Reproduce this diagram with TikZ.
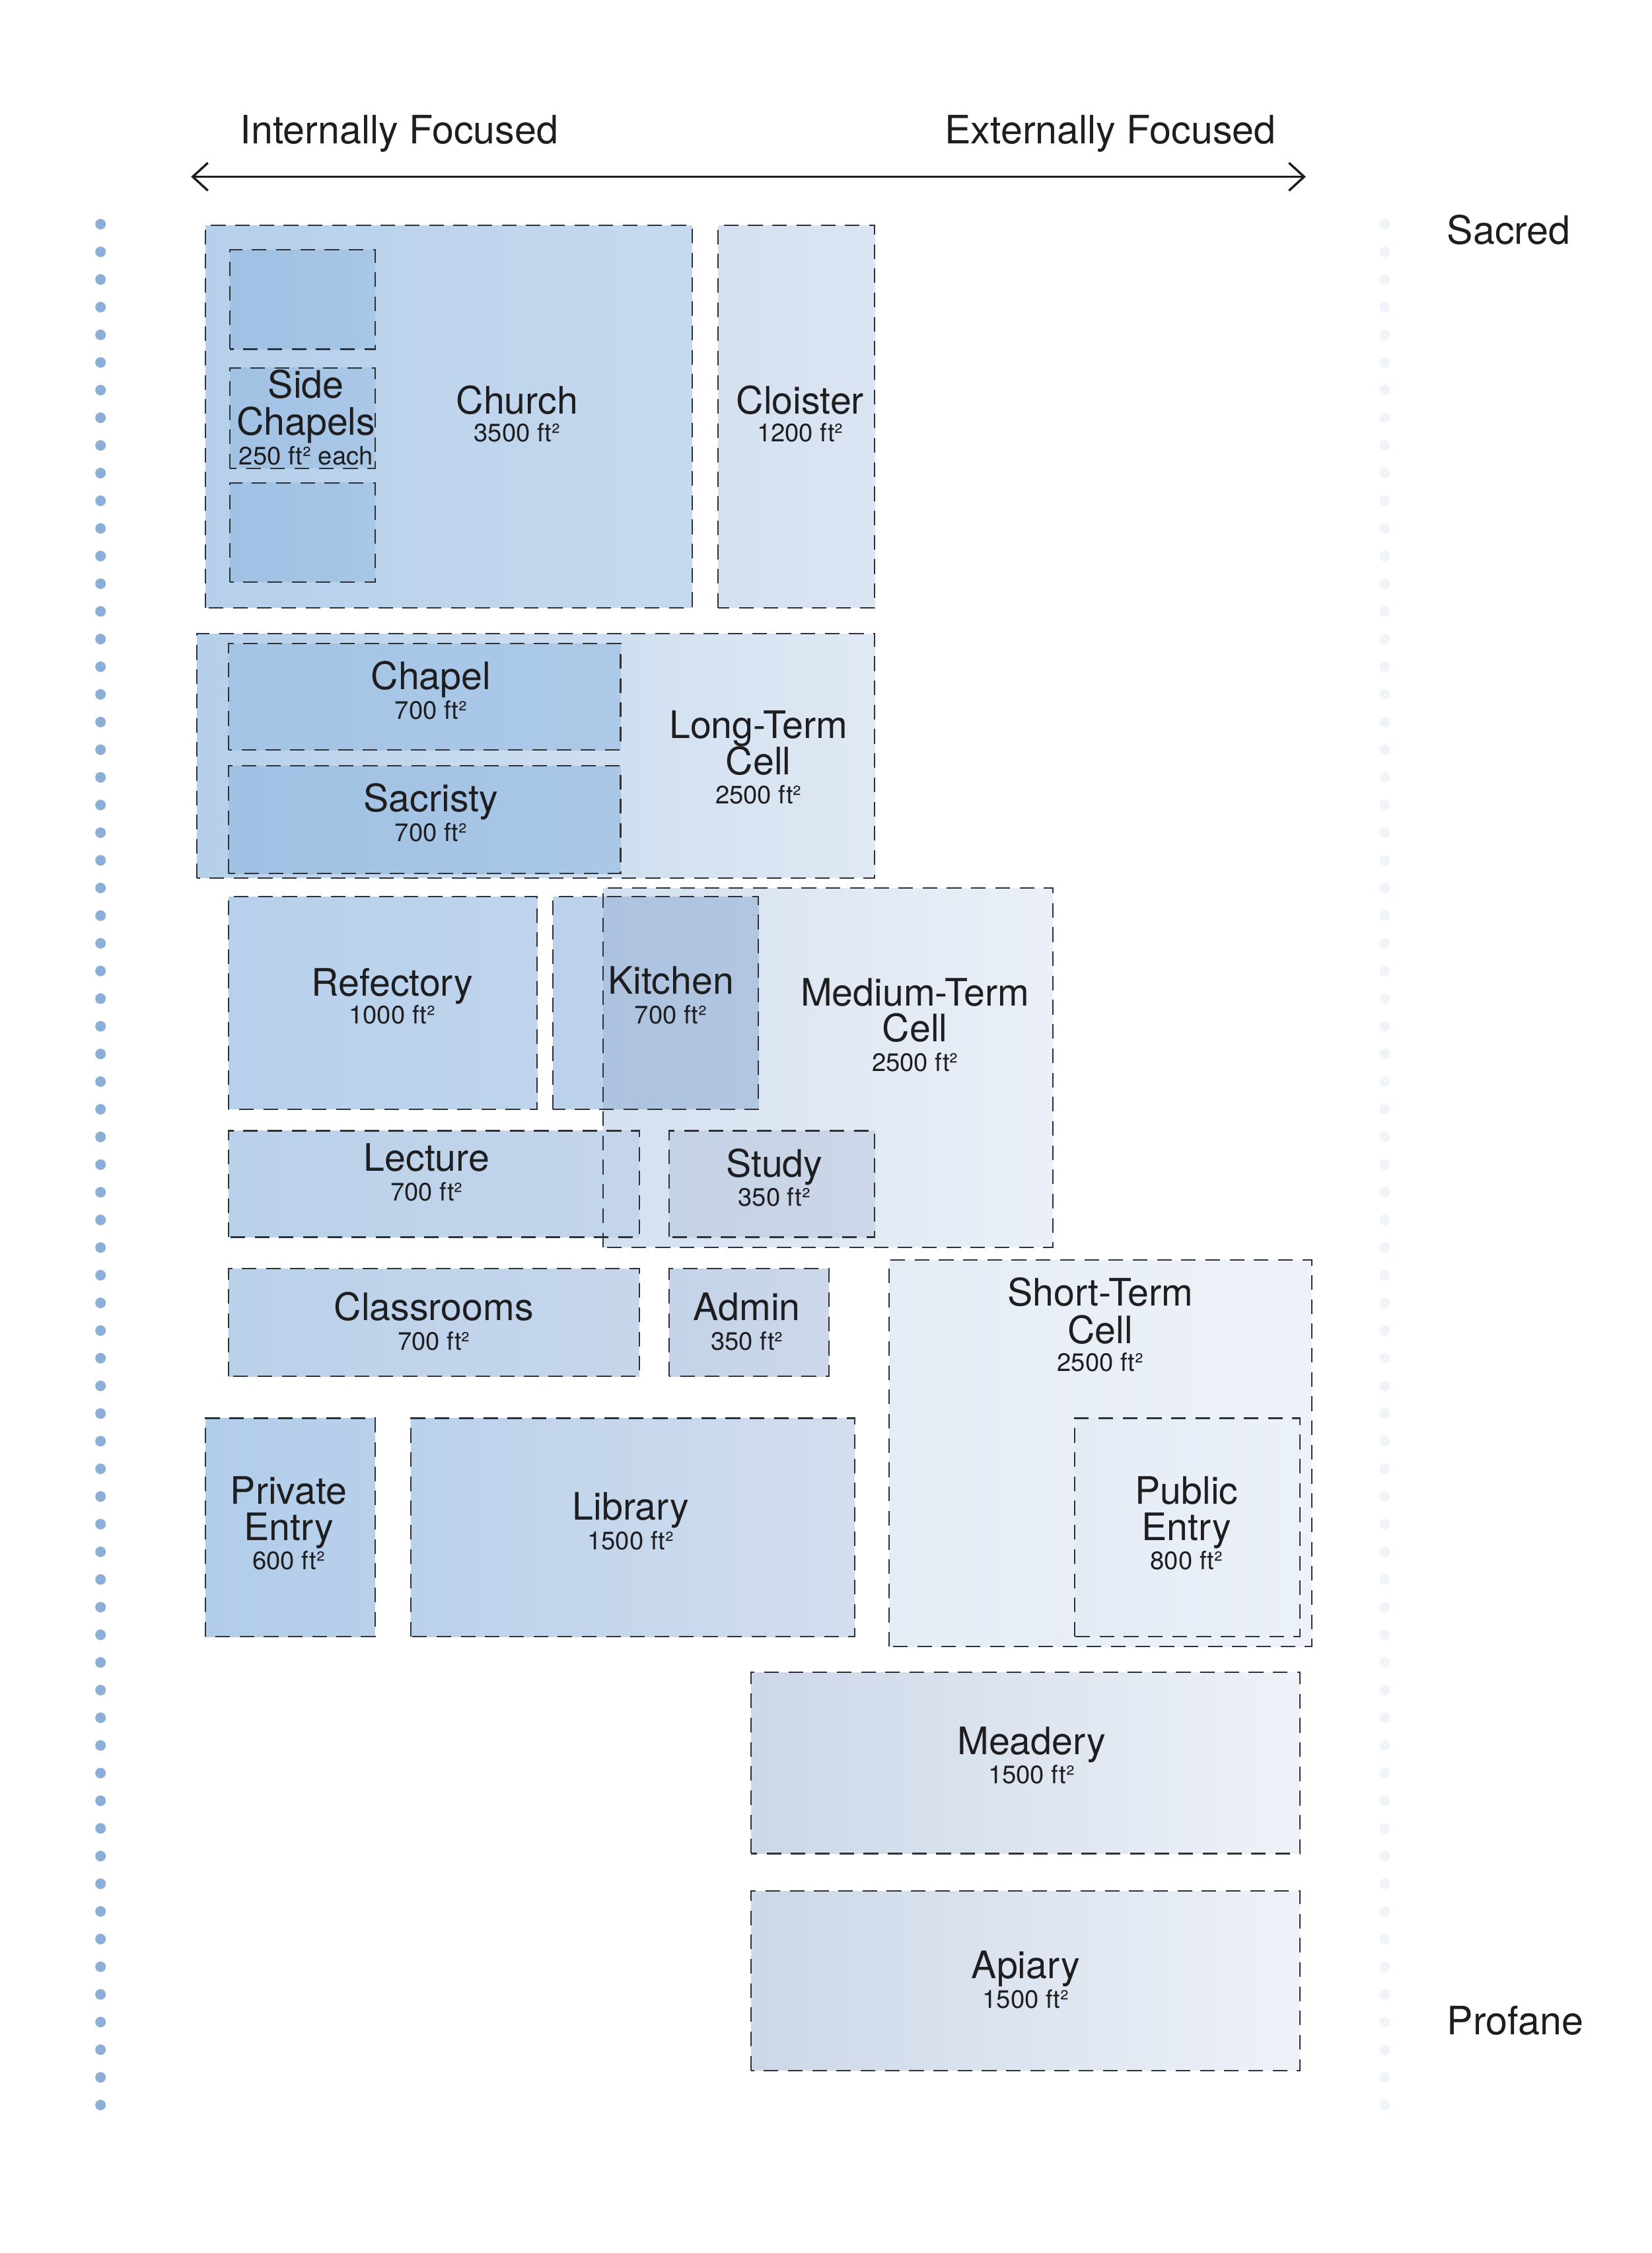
\documentclass[tikz,border=0pt]{standalone}
\usepackage{fontspec}
\setmainfont{TeX Gyre Heros}
\usetikzlibrary{fit,arrows.meta}
\definecolor{txt}{RGB}{30,30,32}
\definecolor{bord}{RGB}{45,50,56}
\definecolor{dotL}{RGB}{140,175,215}
\definecolor{dotR}{RGB}{240,243,248}
\newcommand\tfont{\fontsize{15}{15}\selectfont}
\newcommand\afont{\fontsize{10}{10}\selectfont}
\newcommand\hfont{\fontsize{15.5}{15.5}\selectfont}
\newcommand\room[7]{%
  \definecolor{#1L}{RGB}{#6}\definecolor{#1R}{RGB}{#7}%
  \node[roomfill, left color=#1L, right color=#1R, fit={(#2,#3) (#4,#5)}] (#1) {};}
\newcommand\border[1]{\draw[bordline] (#1.south west) rectangle (#1.north east);}
\begin{document}
\begin{tikzpicture}[x=0.02cm, y=-0.02cm,
  roomfill/.style={rectangle, inner sep=0pt, outer sep=0pt, draw=none},
  bordline/.style={draw=bord, line width=0.55pt, dash pattern=on 5.8pt off 3.8pt},
  ttl/.style={anchor=base, font=\tfont, text=txt, inner sep=0pt},
  ar/.style={anchor=base, font=\afont, text=txt, inner sep=0pt},
  hdr/.style={anchor=base, font=\hfont, text=txt, inner sep=0pt},
  axisarrow/.style={line width=0.9pt, draw=txt, {Straight Barb[length=6pt,width=11pt,line width=0.9pt]}-{Straight Barb[length=6pt,width=11pt,line width=0.9pt]}}
]
\fill[white] (0,0) rectangle (1150,1568);
\useasboundingbox (0,0) rectangle (1150,1568);

% side dotted scales
\foreach \i in {0,...,68} {
  \fill[dotL] (70,{156+\i*19.25}) circle[radius=2.1pt];
  \fill[dotR] (964,{156+\i*19.25}) circle[radius=2.1pt];
}

% header
\node[hdr] (intl) at (278,100) {Internally Focused};
\node[hdr] (extl) at (773,100) {Externally Focused};
\coordinate (arL) at (133,123);
\coordinate (arR) at (909,123);
\draw[axisarrow] (arL) -- (arR);
\node[hdr, anchor=base west] (sacred) at (1007,170) {Sacred};
\node[hdr, anchor=base west] (profane) at (1007,1416) {Profane};

% room fills
\room{church}{143}{157}{482}{423}{182,208,235}{198,217,238}
\room{cloister}{500}{157}{609}{423}{212,224,240}{220,229,242}
\room{longterm}{137}{441}{609}{611}{182,207,234}{224,233,244}
\room{refectory}{159}{624}{374}{772}{183,208,235}{191,212,236}
\room{kitchen}{385}{624}{528}{772}{188,210,235}{192,212,235}
\room{medium}{420}{618}{733}{868}{212,224,240}{235,240,247}
\room{kitchencore}{420}{624}{528}{772}{172,194,222}{178,198,224}
\room{lecture}{159}{787}{445}{861}{186,209,234}{196,213,235}
\room{study}{466}{787}{609}{861}{196,210,229}{204,215,232}
\room{classrooms}{159}{883}{445}{958}{186,209,234}{198,214,235}
\room{admin}{466}{883}{577}{958}{196,211,232}{204,216,234}
\room{shortterm}{619}{877}{913}{1146}{229,236,245}{238,242,248}
\room{privateentry}{143}{987}{261}{1139}{178,205,234}{184,208,234}
\room{library}{286}{987}{595}{1139}{186,209,235}{211,222,238}
\room{publicentry}{748}{987}{905}{1139}{228,235,245}{236,241,248}
\room{meadery}{523}{1164}{905}{1290}{204,215,231}{238,242,248}
\room{apiary}{523}{1316}{905}{1441}{204,215,231}{238,242,248}
\room{sidechapelA}{160}{174}{261}{243}{160,193,228}{168,198,230}
\room{sidechapelB}{160}{256}{261}{326}{162,194,228}{170,199,230}
\room{sidechapelC}{160}{336}{261}{405}{160,193,228}{168,198,230}
\room{chapel}{159}{448}{432}{522}{164,196,230}{172,201,231}
\room{sacristy}{159}{533}{432}{608}{160,193,228}{170,199,230}

% dashed borders
\foreach \r in {church,cloister,longterm,refectory,kitchen,medium,lecture,study,
  classrooms,admin,shortterm,privateentry,library,publicentry,meadery,apiary,
  sidechapelA,sidechapelB,sidechapelC,chapel,sacristy} {\border{\r}}

% labels
\node[ttl] (churchT) at (360,288) {Church};
\node[ar]  (churchA) at (360,307.5) {3500 ft²};
\node[ttl] (sideT1) at (213,277) {Side};
\node[ttl] (sideT2) at (213,303) {Chapels};
\node[ar]  (sideA) at (213,323.5) {250 ft² each};
\node[ttl] (cloisterT) at (557,288) {Cloister};
\node[ar]  (cloisterA) at (557,307.5) {1200 ft²};
\node[ttl] (chapelT) at (300,480) {Chapel};
\node[ar]  (chapelA) at (300,500.5) {700 ft²};
\node[ttl] (sacristyT) at (300,565) {Sacristy};
\node[ar]  (sacristyA) at (300,585.5) {700 ft²};
\node[ttl] (longT1) at (528,514) {Long-Term};
\node[ttl] (longT2) at (528,539) {Cell};
\node[ar]  (longA) at (528,559.5) {2500 ft²};
\node[ttl] (refectoryT) at (273,693) {Refectory};
\node[ar]  (refectoryA) at (273,712.5) {1000 ft²};
\node[ttl] (kitchenT) at (467,692) {Kitchen};
\node[ar]  (kitchenA) at (467,712.5) {700 ft²};
\node[ttl] (mediumT1) at (637,700) {Medium-Term};
\node[ttl] (mediumT2) at (637,725) {Cell};
\node[ar]  (mediumA) at (637,745.5) {2500 ft²};
\node[ttl] (lectureT) at (297,815) {Lecture};
\node[ar]  (lectureA) at (297,835.5) {700 ft²};
\node[ttl] (studyT) at (539,819) {Study};
\node[ar]  (studyA) at (539,839.5) {350 ft²};
\node[ttl] (classroomsT) at (302,919) {Classrooms};
\node[ar]  (classroomsA) at (302,939.5) {700 ft²};
\node[ttl] (adminT) at (520,919) {Admin};
\node[ar]  (adminA) at (520,939.5) {350 ft²};
\node[ttl] (shortT1) at (766,909) {Short-Term};
\node[ttl] (shortT2) at (766,935) {Cell};
\node[ar]  (shortA) at (766,954.5) {2500 ft²};
\node[ttl] (privT1) at (201,1047) {Private};
\node[ttl] (privT2) at (201,1072) {Entry};
\node[ar]  (privA) at (201,1092.5) {600 ft²};
\node[ttl] (libraryT) at (439,1058) {Library};
\node[ar]  (libraryA) at (439,1078.5) {1500 ft²};
\node[ttl] (pubT1) at (826,1047) {Public};
\node[ttl] (pubT2) at (826,1072) {Entry};
\node[ar]  (pubA) at (826,1092.5) {800 ft²};
\node[ttl] (meaderyT) at (718,1221) {Meadery};
\node[ar]  (meaderyA) at (718,1241.5) {1500 ft²};
\node[ttl] (apiaryT) at (714,1377) {Apiary};
\node[ar]  (apiaryA) at (714,1397.5) {1500 ft²};
\end{tikzpicture}
\end{document}
